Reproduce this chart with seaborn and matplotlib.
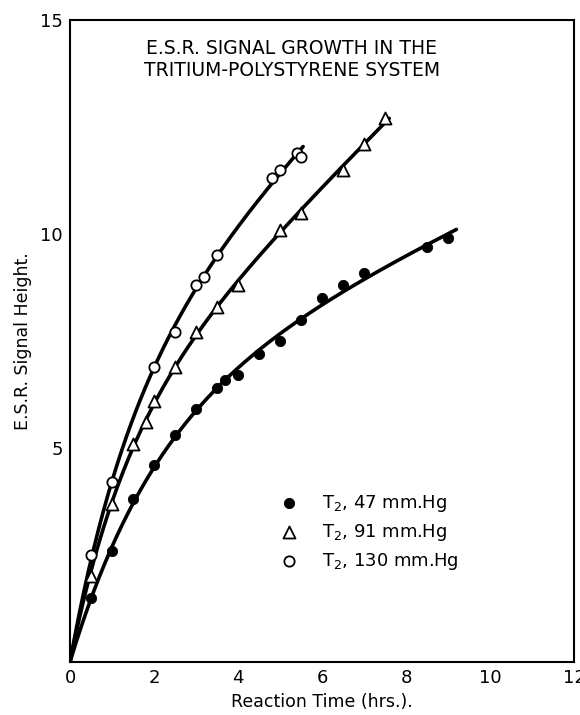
import numpy as np
import pandas as pd
import matplotlib
matplotlib.use("Agg")
import matplotlib.pyplot as plt
import seaborn as sns

sns.set_theme(style="white")
plt.rcParams["font.family"] = ["DejaVu Sans"]
plt.rcParams["text.color"] = "black"
plt.rcParams["axes.labelcolor"] = "black"

# -----------------------------
# Data
# -----------------------------
t_47 = [0.5, 1.0, 1.5, 2.0, 2.5, 3.0, 3.5, 3.7, 4.0, 4.5, 5.0, 5.5, 6.0, 6.5, 7.0, 8.5, 9.0]
y_47 = [1.5, 2.6, 3.8, 4.6, 5.3, 5.9, 6.4, 6.6, 6.7, 7.2, 7.5, 8.0, 8.5, 8.8, 9.1, 9.7, 9.9]

t_91 = [0.5, 1.0, 1.5, 1.8, 2.0, 2.5, 3.0, 3.5, 4.0, 5.0, 5.5, 6.5, 7.0, 7.5]
y_91 = [2.0, 3.7, 5.1, 5.6, 6.1, 6.9, 7.7, 8.3, 8.8, 10.1, 10.5, 11.5, 12.1, 12.7]

t_130 = [0.5, 1.0, 2.0, 2.5, 3.0, 3.2, 3.5, 4.8, 5.0, 5.4, 5.5]
y_130 = [2.5, 4.2, 6.9, 7.7, 8.8, 9.0, 9.5, 11.3, 11.5, 11.9, 11.8]

labels = ["T$_2$, 47 mm.Hg", "T$_2$, 91 mm.Hg", "T$_2$, 130 mm.Hg"]
curve_end = [9.2, 7.6, 5.55]

x_ticks = [0, 2, 4, 6, 8, 10, 12]
y_ticks = [0, 5, 10, 15]


def fit_curve(t, y, t_end):
    # least-squares fit y = a*t + b*(1 - exp(-k t)), k found by grid search
    t = np.asarray(t, float)
    y = np.asarray(y, float)
    best = None
    for k in np.linspace(0.1, 3.0, 300):
        B = np.column_stack([t, 1 - np.exp(-k * t)])
        coef, *_ = np.linalg.lstsq(B, y, rcond=None)
        err = np.sum((B @ coef - y) ** 2)
        if best is None or err < best[0]:
            best = (err, k, coef)
    _, k, coef = best
    tt = np.linspace(0, t_end, 200)
    yy = coef[0] * tt + coef[1] * (1 - np.exp(-k * tt))
    return pd.DataFrame({"t": tt, "y": yy})


# -----------------------------
# Layout
# -----------------------------
fig = plt.figure(figsize=(5.8, 7.15), dpi=100)
ax = fig.add_axes([0.1207, 0.0741, 0.8690, 0.8979])

series = [(t_47, y_47), (t_91, y_91), (t_130, y_130)]
for (t, y), end in zip(series, curve_end):
    sns.lineplot(data=fit_curve(t, y, end), x="t", y="y", color="black",
                 linewidth=2.6, ax=ax, legend=False)

sns.scatterplot(x=t_47, y=y_47, marker="o", s=55, color="black",
                edgecolor="black", zorder=3, ax=ax, label=labels[0])
sns.scatterplot(x=t_91, y=y_91, marker="^", s=75, facecolor="white",
                edgecolor="black", linewidth=1.3, zorder=3, ax=ax, label=labels[1])
sns.scatterplot(x=t_130, y=y_130, marker="o", s=55, facecolor="white",
                edgecolor="black", linewidth=1.3, zorder=3, ax=ax, label=labels[2])

ax.set_xlim(0, 12)
ax.set_ylim(0, 15)
ax.set_xticks(x_ticks)
ax.set_yticks(y_ticks)
ax.set_xticklabels([str(v) for v in x_ticks], fontsize=13)
ax.set_yticklabels([""] + [str(v) for v in y_ticks[1:]], fontsize=13)
ax.tick_params(direction="in", length=7, width=1.2, colors="black", pad=5)
for s in ax.spines.values():
    s.set_color("black")
    s.set_linewidth(1.5)

ax.set_xlabel("Reaction Time (hrs.).", fontsize=12.5, labelpad=4)
ax.set_ylabel("E.S.R. Signal Height.", fontsize=12.5, labelpad=6)

ax.text(0.44, 0.97, "E.S.R. SIGNAL GROWTH IN THE\nTRITIUM-POLYSTYRENE SYSTEM",
        transform=ax.transAxes, ha="center", va="top", fontsize=13.5,
        linespacing=1.15)

ax.legend(loc="upper left", bbox_to_anchor=(0.385, 0.275), frameon=False,
          fontsize=13, handletextpad=0.8, labelspacing=0.45,
          borderaxespad=0)

fig.savefig("out.png", dpi=100)
